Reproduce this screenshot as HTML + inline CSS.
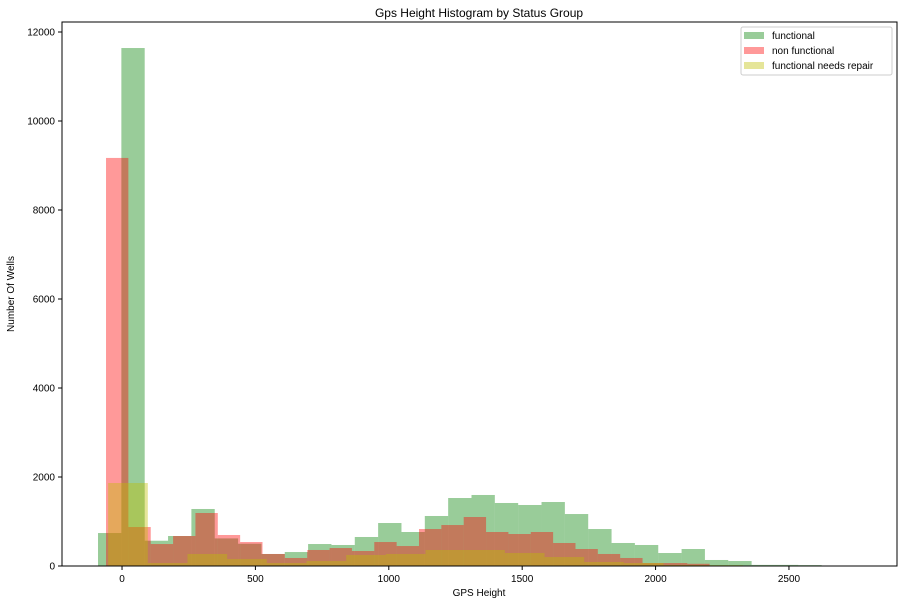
<!DOCTYPE html>
<html><head><meta charset="utf-8"><style>
body{margin:0;background:#fff;font-family:"Liberation Sans","DejaVu Sans",sans-serif}
svg text{font-family:"Liberation Sans","DejaVu Sans",sans-serif;fill:#000}
</style></head><body>
<svg id="chart" width="904" height="604" viewBox="0 0 904 604" xmlns="http://www.w3.org/2000/svg">
<rect x="0" y="0" width="904" height="604" fill="#fff"/>
<text x="479" y="17" font-size="12" text-anchor="middle">Gps Height Histogram by Status Group</text>
<g id="bars"></g>
<rect x="62" y="22" width="835" height="544" fill="none" stroke="#000" stroke-width="1"/>
<g id="axes"></g>
<text x="479" y="596" font-size="10" text-anchor="middle">GPS Height</text>
<text transform="translate(14,294) rotate(-90)" font-size="10" text-anchor="middle">Number Of Wells</text>
<g>
<rect x="741" y="27" width="151" height="48" rx="2" fill="#fff" fill-opacity="0.8" stroke="#ccc"/>
<rect x="744" y="32" width="20" height="7" fill="#008000" fill-opacity="0.4"/>
<text x="772" y="39" font-size="10">functional</text>
<rect x="744" y="47" width="20" height="7" fill="#ff0000" fill-opacity="0.4"/>
<text x="772" y="54" font-size="10">non functional</text>
<rect x="744" y="62" width="20" height="7" fill="#bfbf00" fill-opacity="0.4"/>
<text x="772" y="69" font-size="10">functional needs repair</text>
</g>
</svg>
<script>
const funcStart = -90, funcWidth = 87.5;
const funcCounts = [741,11640,568,674,1281,620,500,270,314,494,472,652,966,764,1124,1528,1596,1416,1371,1438,1168,831,517,472,292,382,135,112,25,25,20];
const nonStart = -60, nonWidth = 83.8;
const nonCounts = [9170,876,494,674,1191,697,539,270,180,360,404,337,539,449,831,921,1101,764,719,764,517,382,270,180,67,67,50];
const repStart = -52, repWidth = 148.7;
const repCounts = [1865,67,270,157,67,112,247,270,360,360,292,202,90,67,22,20];
const xTicks = [0,500,1000,1500,2000,2500];
const yTicks = [0,2000,4000,6000,8000,10000,12000];

const X0=62,X1=897,Y0=566,Y1=8, xmin=-225, xmax=2905, ymax=(566-8)/0.0445;
function sx(v){return X0+(v-xmin)/(xmax-xmin)*(X1-X0);}
function sy(v){return Y0-v/ymax*(Y0-Y1);}
const NS='http://www.w3.org/2000/svg';
const bars=document.getElementById('bars');
function series(start,width,counts,color,name){
  counts.forEach((c,i)=>{
    const r=document.createElementNS(NS,'rect');
    const a=sx(start+i*width), b=sx(start+(i+1)*width);
    r.setAttribute('x',a); r.setAttribute('width',b-a);
    r.setAttribute('y',sy(c)); r.setAttribute('height',Y0-sy(c));
    r.setAttribute('fill',color); r.setAttribute('fill-opacity','0.4');
    
    
    bars.appendChild(r);
  });
}
series(funcStart,funcWidth,funcCounts,'#008000','functional');
series(nonStart,nonWidth,nonCounts,'#ff0000','non-functional');
series(repStart,repWidth,repCounts,'#bfbf00','needs-repair');
const axes=document.getElementById('axes');
xTicks.forEach(t=>{
  const x=sx(t);
  const l=document.createElementNS(NS,'line');
  l.setAttribute('x1',x);l.setAttribute('x2',x);l.setAttribute('y1',566);l.setAttribute('y2',570);l.setAttribute('stroke','#000');
  
  
  axes.appendChild(l);
  const tx=document.createElementNS(NS,'text');
  tx.setAttribute('x',x);tx.setAttribute('y',582);tx.setAttribute('font-size','10');tx.setAttribute('text-anchor','middle');
  tx.textContent=t;
  
  
  axes.appendChild(tx);
});
yTicks.forEach(t=>{
  const y=sy(t);
  const l=document.createElementNS(NS,'line');
  l.setAttribute('x1',58);l.setAttribute('x2',62);l.setAttribute('y1',y);l.setAttribute('y2',y);l.setAttribute('stroke','#000');
  
  
  axes.appendChild(l);
  const tx=document.createElementNS(NS,'text');
  tx.setAttribute('x',55);tx.setAttribute('y',y+3.5);tx.setAttribute('font-size','10');tx.setAttribute('text-anchor','end');
  tx.textContent=t;
  
  
  axes.appendChild(tx);
});
</script>
</body></html>
